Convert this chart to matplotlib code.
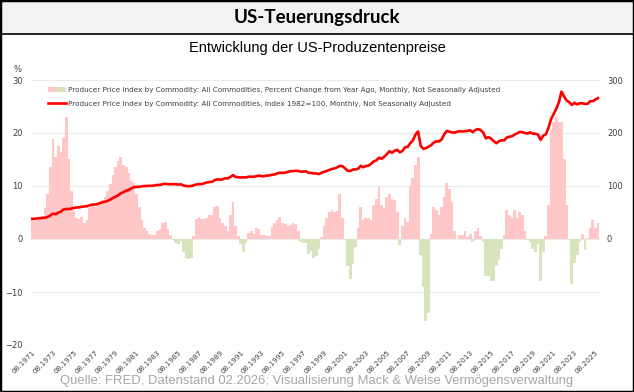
import pandas as pd
import matplotlib
matplotlib.use('Agg')
import matplotlib.pyplot as plt
from matplotlib.patches import Rectangle, Patch
from matplotlib.lines import Line2D
from matplotlib.legend_handler import HandlerTuple

# quarterly readings from the chart (Feb, May, Aug, Nov), starting Aug 1971
ppi_yoy = [
    3.7, 3.4,                      # 1971
    3.6, 4.0, 4.4, 5.8,            # 1972
    8.5, 13.5, 18.8, 15.5,         # 1973
    17.5, 16.5, 19.0, 23.0,        # 1974
    15.0, 9.0, 5.2, 4.0,           # 1975
    3.8, 4.2, 3.0, 3.6,            # 1976
    5.8, 6.5, 6.0, 6.8,            # 1977
    6.9, 7.3, 8.0, 9.0,            # 1978
    10.3, 12.0, 13.5, 14.8,        # 1979
    15.5, 14.0, 13.5, 12.5,        # 1980
    11.0, 10.5, 8.5, 6.0,          # 1981
    3.5, 2.0, 1.5, 1.0,            # 1982
    0.8, 0.8, 1.5, 1.8,            # 1983
    3.0, 3.3, 1.8, 0.8,            # 1984
    -0.2, -0.8, -1.0, -0.4,        # 1985
    -2.5, -3.5, -3.8, -3.5,        # 1986
    0.5, 3.8, 4.2, 3.8,            # 1987
    3.8, 4.0, 4.5, 4.6,            # 1988
    6.0, 6.3, 4.0, 3.0,            # 1989
    2.5, 1.5, 4.5, 7.0,            # 1990
    2.5, 0.5, -1.0, -2.5,          # 1991
    -0.8, 1.2, 1.5, 1.0,           # 1992
    2.0, 1.8, 0.8, 0.8,            # 1993
    0.6, 0.6, 2.2, 3.0,            # 1994
    3.5, 4.2, 3.0, 2.8,            # 1995
    2.5, 2.7, 3.0, 2.8,            # 1996
    1.5, -0.5, -0.7, -0.8,         # 1997
    -2.8, -2.2, -3.5, -3.3,        # 1998
    -1.8, 0.3, 2.5, 4.0,           # 1999
    5.0, 5.5, 5.0, 5.3,            # 2000
    8.5, 4.0, 0.0, -5.0,           # 2001
    -7.5, -4.8, -1.5, 2.0,         # 2002
    6.0, 3.5, 4.0, 4.0,            # 2003
    3.5, 6.5, 7.5, 9.8,            # 2004
    6.5, 5.8, 8.0, 8.5,            # 2005
    7.5, 7.4, 5.0, -1.2,           # 2006
    2.5, 4.0, 3.2, 10.0,           # 2007
    11.5, 14.0, 15.5, -3.0,        # 2008
    -9.0, -15.5, -14.0, 1.0,       # 2009
    6.0, 5.5, 4.5, 6.0,            # 2010
    8.0, 10.5, 9.5, 7.0,           # 2011
    1.5, 0.0, 0.8, 0.8,            # 2012
    1.5, 0.3, 1.0, -0.5,           # 2013
    1.5, 2.0, 0.5, -0.5,           # 2014
    -7.0, -7.0, -8.0, -8.0,        # 2015
    -5.0, -4.0, -1.8, 0.8,         # 2016
    5.5, 4.5, 4.0, 5.5,            # 2017
    4.0, 5.0, 4.5, 1.5,            # 2018
    -0.2, -0.5, -1.8, -2.5,        # 2019
    -1.0, -8.0, -2.5, 0.5,         # 2020
    6.5, 20.5, 22.0, 23.0,         # 2021
    22.0, 22.0, 15.0, 6.5,         # 2022
    0.0, -8.5, -4.5, -3.0,         # 2023
    -0.5, 1.0, -2.0, 0.2,          # 2024
    2.0, 3.5, 2.0, 3.0,            # 2025
]

ppi_index = [
    38.2, 38.1,                    # 1971
    38.8, 39.2, 39.8, 40.2,        # 1972
    42.0, 44.5, 47.9, 46.8,        # 1973
    49.7, 51.6, 55.7, 56.6,        # 1974
    56.5, 57.3, 58.7, 59.5,        # 1975
    59.7, 60.7, 61.5, 61.8,        # 1976
    63.5, 64.8, 65.1, 66.0,        # 1977
    67.8, 69.3, 70.5, 72.0,        # 1978
    74.6, 77.4, 79.9, 82.5,        # 1979
    86.4, 88.3, 91.1, 92.4,        # 1980
    95.5, 97.8, 98.4, 98.3,        # 1981
    99.5, 99.9, 100.2, 100.3,      # 1982
    100.4, 101.2, 102.0, 102.0,    # 1983
    103.6, 104.2, 103.5, 103.3,    # 1984
    103.5, 103.4, 102.6, 103.2,    # 1985
    101.1, 99.8, 99.6, 99.9,       # 1986
    101.5, 103.0, 103.5, 103.7,    # 1987
    105.1, 106.8, 107.5, 108.1,    # 1988
    111.0, 112.8, 111.8, 112.5,    # 1989
    114.5, 114.3, 117.0, 120.5,    # 1990
    117.0, 116.5, 116.0, 116.3,    # 1991
    116.2, 117.6, 117.6, 117.5,    # 1992
    118.5, 119.7, 118.4, 118.6,    # 1993
    119.6, 120.1, 121.1, 121.7,    # 1994
    124.0, 125.0, 124.8, 125.2,    # 1995
    126.4, 127.9, 128.1, 128.6,    # 1996
    128.5, 127.0, 127.4, 127.6,    # 1997
    124.8, 124.7, 123.8, 123.6,    # 1998
    122.5, 125.1, 126.9, 128.6,    # 1999
    130.5, 132.1, 133.3, 135.3,    # 2000
    138.0, 137.4, 133.4, 128.8,    # 2001
    128.4, 130.9, 131.4, 132.5,    # 2002
    138.1, 135.3, 137.8, 138.4,    # 2003
    142.1, 146.5, 148.3, 153.4,    # 2004
    151.4, 155.1, 160.1, 165.5,    # 2005
    162.6, 166.5, 168.2, 163.5,    # 2006
    166.5, 173.0, 173.6, 180.9,    # 2007
    186.0, 197.0, 203.0, 175.7,    # 2008
    170.1, 171.4, 174.1, 177.0,    # 2009
    182.0, 184.3, 183.9, 187.8,    # 2010
    197.3, 204.0, 202.6, 201.1,    # 2011
    200.8, 202.4, 203.3, 202.9,    # 2012
    203.4, 204.1, 205.1, 201.6,    # 2013
    205.8, 207.4, 205.5, 200.7,    # 2014
    189.7, 192.3, 189.4, 184.6,    # 2015
    180.7, 184.4, 186.2, 186.1,    # 2016
    191.4, 193.0, 193.8, 197.0,    # 2017
    199.4, 202.1, 201.6, 199.8,    # 2018
    199.0, 201.1, 198.8, 198.6,    # 2019
    197.0, 187.0, 195.0, 197.5,    # 2020
    210.0, 226.0, 236.0, 246.0,    # 2021
    258.0, 278.0, 269.0, 261.0,    # 2022
    258.0, 253.0, 257.0, 254.0,    # 2023
    256.0, 256.0, 255.0, 255.0,    # 2024
    260.0, 260.0, 263.0, 266.0,    # 2025
]

dates = pd.date_range('1971-08-01', periods=len(ppi_yoy), freq='3MS')
tick_dates = pd.date_range('1971-08-01', '2025-08-01', freq='24MS')
tick_labels = [d.strftime('%m.%Y') for d in tick_dates]

label_yoy = ('Producer Price Index by Commodity: All Commodities, Percent Change from Year Ago, '
             'Monthly, Not Seasonally Adjusted')
label_index = 'Producer Price Index by Commodity: All Commodities, Index 1982=100, Monthly, Not Seasonally Adjusted'

pink = '#ffc7c7'
green = '#d7e4bd'
red = '#ff0000'
tick_color = '#404040'

W, H = 634, 392
fig = plt.figure(figsize=(W / 100, H / 100), dpi=100)

# header band
band_h = 34 / H
fig.patches.append(Rectangle((0, 1 - band_h), 1, band_h, transform=fig.transFigure,
                             facecolor='#f2f2f2', edgecolor='none', zorder=0))
fig.add_artist(Line2D([0, 1], [1 - band_h, 1 - band_h], transform=fig.transFigure,
                      color='black', lw=1.2))
fig.add_artist(Rectangle((0, 0), 1, 1, transform=fig.transFigure, fill=False,
                         edgecolor='black', lw=2.5))

fig.text(0.5, 1 - 18 / H, 'US-Teuerungsdruck', ha='center', va='center',
         fontsize=13.5, fontweight='bold', family='Lato')
fig.text(0.5, 1 - 48 / H, 'Entwicklung der US-Produzentenpreise', ha='center', va='center',
         fontsize=10.5, family='Liberation Sans')
fig.text(0.5, 1 - 381 / H,
         'Quelle: FRED, Datenstand 02.2026; Visualisierung Mack & Weise Vermögensverwaltung',
         ha='center', va='center', fontsize=9.4, color='#a6a6a6', family='Liberation Sans')
fig.text(18 / W, 1 - 70 / H, '%', ha='center', va='center', fontsize=6, color=tick_color)

ax = fig.add_axes([31 / W, 1 - 345 / H, 569 / W, 265 / H])
colors = [pink if v >= 0 else green for v in ppi_yoy]
ax.bar(dates, ppi_yoy, width=100, color=colors, linewidth=0, zorder=2)
ax.set_ylim(-20, 30)
ax.set_yticks(range(-20, 31, 10))
ax.grid(axis='y', color='#ebebeb', lw=0.8, zorder=0)
ax.set_axisbelow(True)
ax.set_xlim(pd.Timestamp('1971-06-20'), pd.Timestamp('2026-01-10'))
ax.set_xticks(tick_dates)
ax.set_xticklabels(tick_labels, rotation=45, ha='right', va='top',
                   rotation_mode='anchor', fontsize=5.2, color=tick_color)
ax.tick_params(axis='both', length=0)
ax.tick_params(axis='y', labelsize=6, labelcolor=tick_color, pad=6)
ax.tick_params(axis='x', pad=3)
for s in ax.spines.values():
    s.set_visible(False)

ax2 = ax.twinx()
ax2.plot(dates, ppi_index, color=red, lw=1.9, zorder=3)
ax2.set_ylim(-200, 300)
ax2.set_yticks([0, 100, 200, 300])
ax2.tick_params(axis='y', length=0, labelsize=6, labelcolor=tick_color, pad=5)
for s in ax2.spines.values():
    s.set_visible(False)

handles = [(Patch(facecolor=pink), Patch(facecolor=green)),
           Line2D([], [], color=red, lw=1.9)]
leg = ax2.legend(handles, [label_yoy, label_index],
                 handler_map={tuple: HandlerTuple(ndivide=None, pad=0)},
                 loc='upper left', bbox_to_anchor=(0.025, 0.985), frameon=False,
                 fontsize=5.2, handlelength=2.5, handleheight=0.6,
                 handletextpad=0.3, labelspacing=1.1, borderaxespad=0)
for t in leg.get_texts():
    t.set_color('#404040')

plt.savefig('out.png', dpi=100)
